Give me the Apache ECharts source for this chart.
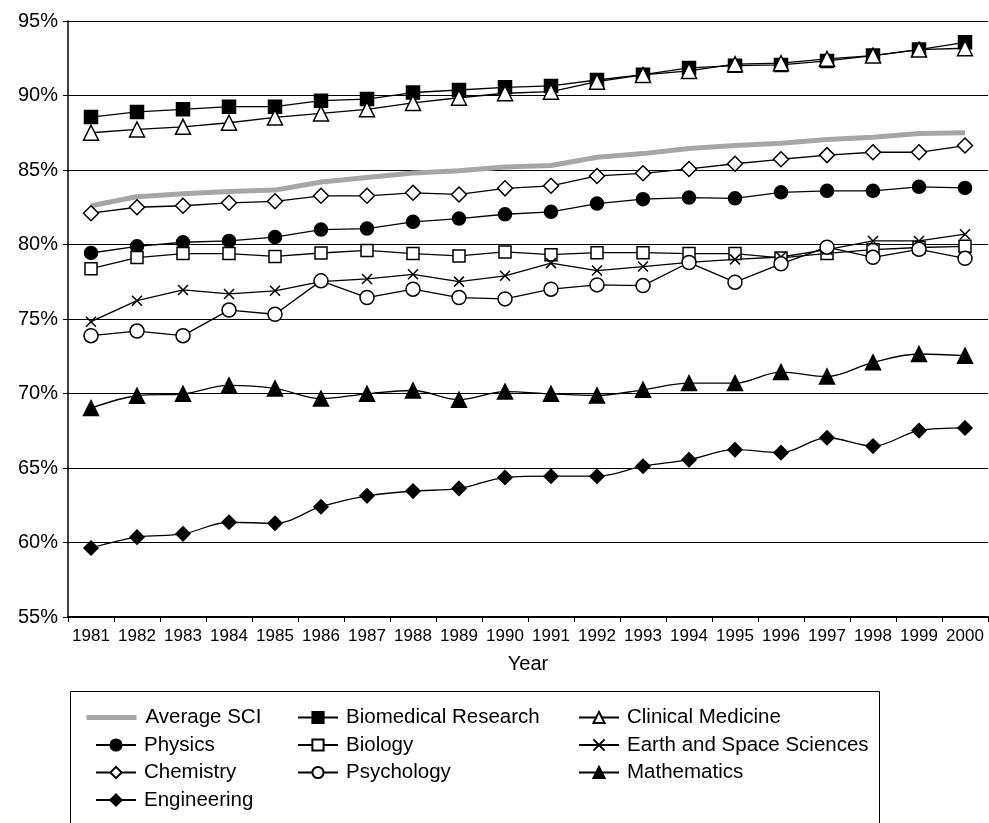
<!DOCTYPE html>
<html>
<head>
<meta charset="utf-8">
<script src="https://cdn.jsdelivr.net/npm/echarts@6/dist/echarts.min.js"></script>
<style>
html,body{margin:0;padding:0;background:#fff;}
#chart{width:989px;height:823px;}
</style>
</head>
<body>
<div id="chart"></div>
<script>
var years = ['1981','1982','1983','1984','1985','1986','1987','1988','1989','1990','1991','1992','1993','1994','1995','1996','1997','1998','1999','2000'];
var yTicks = {min: 55, max: 95, interval: 5};

var averageSCI = [82.6, 83.2, 83.4, 83.55, 83.65, 84.2, 84.5, 84.8, 84.95, 85.2, 85.3, 85.85, 86.1, 86.45, 86.65, 86.8, 87.05, 87.2, 87.45, 87.5];
var biomedical = [88.55, 88.9, 89.07, 89.25, 89.25, 89.65, 89.76, 90.2, 90.37, 90.55, 90.64, 91.04, 91.4, 91.85, 92.0, 92.05, 92.32, 92.68, 93.08, 93.57];
var clinical = [87.5, 87.72, 87.9, 88.17, 88.53, 88.8, 89.07, 89.5, 89.85, 90.15, 90.26, 90.93, 91.38, 91.65, 92.1, 92.17, 92.46, 92.68, 93.08, 93.17];
var physics = [79.43, 79.88, 80.15, 80.24, 80.5, 81.0, 81.07, 81.52, 81.74, 82.03, 82.19, 82.75, 83.04, 83.15, 83.1, 83.5, 83.6, 83.6, 83.87, 83.8];
var biology = [78.38, 79.12, 79.39, 79.39, 79.2, 79.43, 79.6, 79.39, 79.23, 79.5, 79.32, 79.45, 79.45, 79.39, 79.39, 79.1, 79.4, 79.65, 79.8, 79.88];
var earthSpace = [74.82, 76.23, 76.95, 76.68, 76.89, 77.51, 77.69, 78.0, 77.51, 77.9, 78.75, 78.25, 78.52, 78.8, 79.0, 79.16, 79.65, 80.24, 80.24, 80.69];
var chemistry = [82.1, 82.5, 82.6, 82.8, 82.9, 83.27, 83.27, 83.47, 83.36, 83.77, 83.94, 84.6, 84.78, 85.07, 85.42, 85.72, 86.0, 86.19, 86.19, 86.64];
var psychology = [73.88, 74.19, 73.88, 75.6, 75.32, 77.56, 76.44, 77.0, 76.44, 76.35, 77.0, 77.29, 77.24, 78.79, 77.47, 78.7, 79.82, 79.14, 79.68, 79.07];
var mathematics = [69.02, 69.85, 69.98, 70.54, 70.34, 69.66, 69.98, 70.2, 69.58, 70.13, 69.98, 69.87, 70.25, 70.7, 70.7, 71.44, 71.14, 72.09, 72.65, 72.54];
var engineering = [59.63, 60.36, 60.58, 61.36, 61.29, 62.4, 63.13, 63.45, 63.63, 64.36, 64.45, 64.45, 65.12, 65.56, 66.23, 66.03, 67.03, 66.47, 67.51, 67.69];

var FONT = "'Liberation Sans', Arial, sans-serif";
var crossPath = 'path://M0,0 L10,10 M10,0 L0,10';

function mk(name, data, symbol, size, filled, extra) {
  var s = {
    name: name, type: 'line', data: data,
    symbol: symbol, symbolSize: size, showSymbol: true,
    lineStyle: {color: '#000', width: 1.3},
    itemStyle: {color: filled ? '#000' : '#fff', borderColor: '#000', borderWidth: 1.5},
    emphasis: {disabled: true},
    animation: false
  };
  if (extra) for (var k in extra) s[k] = extra[k];
  return s;
}

var series = [
  {name: 'Average SCI', type: 'line', data: averageSCI, showSymbol: false, symbol: 'none',
   lineStyle: {color: '#a6a6a6', width: 5}, itemStyle: {color: '#a6a6a6'}, emphasis: {disabled: true}, animation: false, z: 1},
  mk('Biomedical Research', biomedical, 'rect', 13, true),
  mk('Clinical Medicine', clinical, 'triangle', 15, false),
  mk('Physics', physics, 'circle', 13, true),
  mk('Biology', biology, 'rect', 12, false),
  mk('Earth and Space Sciences', earthSpace, crossPath, 10, false, {itemStyle: {color: 'none', borderColor: '#000', borderWidth: 1.5}}),
  mk('Chemistry', chemistry, 'diamond', [15, 15], false),
  mk('Psychology', psychology, 'circle', 14, false),
  mk('Mathematics', mathematics, 'triangle', 15, true, {smooth: 0.35}),
  mk('Engineering', engineering, 'diamond', [14, 14], true, {smooth: 0.35})
];

function legendCol(left, top, names, w, pad) {
  return {
    orient: 'vertical', left: left, top: top,
    itemWidth: w || 40, itemHeight: 14, itemGap: 6.5,
    data: names,
    textStyle: {fontFamily: FONT, fontSize: 20.5, color: '#000', lineHeight: 21, padding: [0, 0, 0, pad == null ? 3 : pad]},
    selectedMode: false
  };
}

var chart = echarts.init(document.getElementById('chart'), null, {renderer: 'canvas'});
chart.setOption({
  animation: false,
  backgroundColor: '#fff',
  grid: {left: 68, right: 1, top: 21, bottom: 206, containLabel: false},
  xAxis: {
    type: 'category', data: years, boundaryGap: true,
    name: 'Year', nameLocation: 'middle', nameGap: 37,
    nameTextStyle: {fontFamily: FONT, fontSize: 20, color: '#000'},
    axisLine: {lineStyle: {color: '#000', width: 2}},
    axisTick: {show: true, length: 5, lineStyle: {color: '#000'}, alignWithLabel: false},
    axisLabel: {fontFamily: FONT, fontSize: 17, color: '#000', margin: 11, interval: 0},
    splitLine: {show: false}
  },
  yAxis: {
    type: 'value', min: yTicks.min, max: yTicks.max, interval: yTicks.interval,
    axisLine: {show: true, lineStyle: {color: '#000', width: 1.5}},
    axisTick: {show: true, length: 5, lineStyle: {color: '#000'}},
    axisLabel: {fontFamily: FONT, fontSize: 20, color: '#000', margin: 10, formatter: '{value}%'},
    splitLine: {show: true, lineStyle: {color: '#000', width: 1}}
  },
  legend: [
    legendCol(79, 702, [{name: 'Average SCI', itemStyle: {opacity: 0}, lineStyle: {width: 5, color: '#a6a6a6'}}], 50, 4),
    legendCol(90, 729.5, ['Physics', 'Chemistry', 'Engineering']),
    legendCol(292, 702, ['Biomedical Research', 'Biology', 'Psychology']),
    legendCol(573, 702, ['Clinical Medicine', 'Earth and Space Sciences', 'Mathematics'])
  ],
  graphic: [{
    type: 'rect', left: 68, top: 689, shape: {width: 809, height: 150},
    style: {fill: 'none', stroke: '#000', lineWidth: 1}, z: -1, silent: true
  }],
  series: series
});
</script>
</body>
</html>
